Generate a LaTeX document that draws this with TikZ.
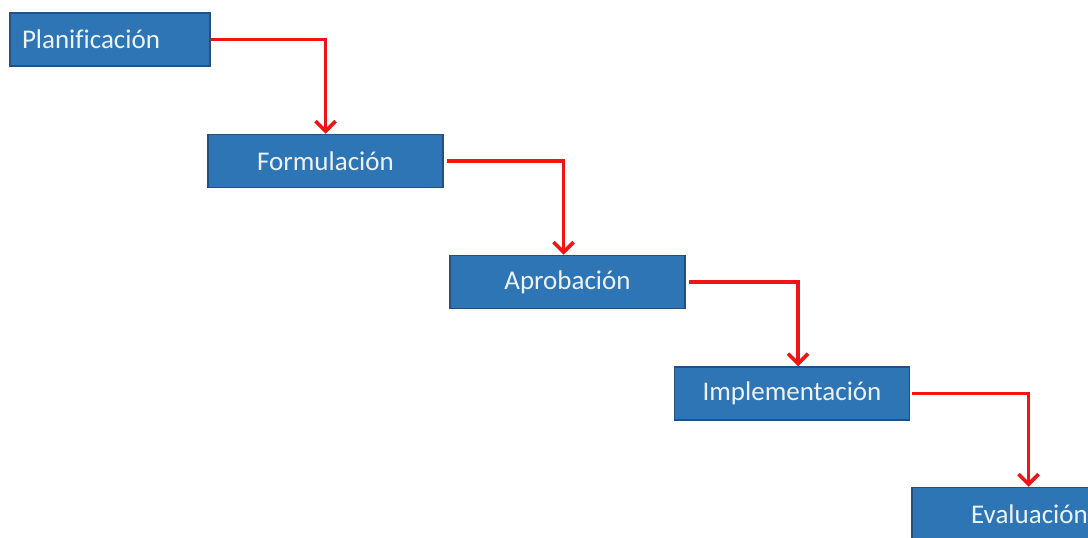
\documentclass[tikz,border=0pt]{standalone}
\usepackage{fontspec}
\setmainfont[Ligatures=NoCommon]{Carlito}
\usetikzlibrary{arrows.meta}
\definecolor{boxfill}{RGB}{46,117,182}
\definecolor{boxline}{RGB}{37,80,125}
\definecolor{boxtext}{RGB}{236,242,248}
\definecolor{arrowred}{RGB}{240,20,20}
\begin{document}
\begin{tikzpicture}[x=1pt,y=-1pt,
  stage/.style={rectangle, fill=boxfill, draw=boxline, line width=1.5pt,
    minimum width=235pt, minimum height=53pt, inner sep=0pt,
    text=boxtext, font=\fontsize{27}{32}\selectfont},
  flow/.style={draw=arrowred, line width=3.6pt, -{Straight Barb[length=10pt,width=20pt,line width=3.6pt]}}]
\useasboundingbox (0,0) rectangle (1088,538);
\clip (0,0) rectangle (1088,538);
\fill[white] (0,0) rectangle (1088,538);
\node[stage, minimum width=200pt, text width=176pt, inner xsep=12pt, align=left] (p) at (110,39.5) {Planificación};
\node[stage] (f) at (325.5,161) {Formulación};
\node[stage] (a) at (567.5,282) {Aprobación};
\node[stage] (i) at (792,393.5) {Implementación};
\node[stage] (e) at (1029.5,514) {Evaluación};
\draw[flow] (p.east) -| (f.north);
\draw[flow] ([xshift=3pt]f.east) -| ([xshift=-4pt]a.north);
\draw[flow] ([xshift=3pt]a.east) -| ([xshift=6pt]i.north);
\draw[flow] ([xshift=2pt]i.east) -| ([xshift=-1pt]e.north);
\end{tikzpicture}
\end{document}
